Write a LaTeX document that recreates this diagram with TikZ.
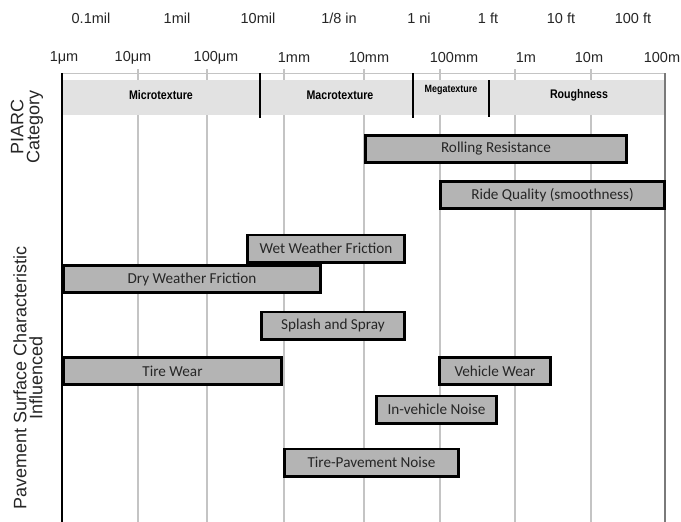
\documentclass[tikz,border=0pt]{standalone}
\usepackage{fontspec}
\setmainfont{Liberation Sans}
\newfontfamily\barfont{Carlito}
\newfontfamily\bandfont{Liberation Sans}[FakeStretch=0.85]
\usepackage{tikz}
\definecolor{gridgray}{HTML}{C4C4C4}
\definecolor{axisgray}{HTML}{7A7A7A}
\definecolor{bandfill}{HTML}{E2E2E2}
\definecolor{barfill}{HTML}{B4B4B4}

\begin{document}
\begin{tikzpicture}[x=1pt,y=-1pt,
    every node/.style={inner sep=0pt, outer sep=0pt},
    scalelabel/.style={font=\fontsize{14.5}{16}\selectfont, text=black!85},
    bandlabel/.style={font=\bandfont\bfseries\fontsize{12.5}{14}\selectfont},
    effect/.style={draw=black, line width=2.6pt, fill=barfill, minimum height=30pt-\pgflinewidth,
      font=\barfont\fontsize{15.2}{17}\selectfont, text=black!85},
    gridline/.style={draw=gridgray, line width=1.3pt}]
  \useasboundingbox (0,0) rectangle (681,522);
  \draw[gridline] (138,69) -- (138,522);
  \draw[gridline] (207,69) -- (207,522);
  \draw[gridline] (284,69) -- (284,522);
  \draw[gridline] (364,69) -- (364,522);
  \draw[gridline] (440,69) -- (440,522);
  \draw[gridline] (515,69) -- (515,522);
  \draw[gridline] (591,69) -- (591,522);
  \draw[draw=gridgray, line width=1pt] (62,73) -- (665,73);
  \fill[bandfill] (62,80) rectangle (665,115);
  \draw[line width=1.6pt] (260,73) -- (260,118);
  \draw[line width=1.6pt] (413,73) -- (413,118);
  \draw[line width=1.6pt] (489,80) -- (489,117);
  \draw[line width=1.2pt] (62,73) -- (62,522);
  \draw[draw=axisgray, line width=1.6pt] (665,73) -- (665,522);

  % imperial scale
  \node[scalelabel] (mil01) at (91,18) {0.1mil};
  \node[scalelabel] (mil1) at (177,18) {1mil};
  \node[scalelabel] (mil10) at (258,18) {10mil};
  \node[scalelabel] (in18) at (339,18) {1/8 in};
  \node[scalelabel] (in1) at (419,18) {1 ni};
  \node[scalelabel] (ft1) at (488,18) {1 ft};
  \node[scalelabel] (ft10) at (561,18) {10 ft};
  \node[scalelabel] (ft100) at (633,18) {100 ft};
  % metric scale
  \node[scalelabel] (um1) at (64,58) {1μm};
  \node[scalelabel] (um10) at (133,58) {10μm};
  \node[scalelabel] (um100) at (216,58) {100μm};
  \node[scalelabel] (mm1) at (294,58) {1mm};
  \node[scalelabel] (mm10) at (369,58) {10mm};
  \node[scalelabel] (mm100) at (454,58) {100mm};
  \node[scalelabel] (m1) at (526,58) {1m};
  \node[scalelabel] (m10) at (589,58) {10m};
  \node[scalelabel] (m100) at (662,58) {100m};

  % PIARC categories
  \node[bandlabel] (micro) at (161,95) {Microtexture};
  \node[bandlabel] (macro) at (340,95) {Macrotexture};
  \node[bandlabel, font=\bandfont\bfseries\fontsize{10.5}{12}\selectfont] (mega) at (451,90) {Megatexture};
  \node[bandlabel] (rough) at (579,95) {Roughness};

  % side titles
  \node[rotate=90, align=center, font=\fontsize{18}{16}\selectfont, text=black!85] (piarc) at (27,127) {PIARC\\Category};
  \node[rotate=90, align=center, font=\fontsize{18}{16}\selectfont, text=black!85] (influenced) at (28,378) {Pavement Surface Characteristic\\Influenced};

  % characteristics
  \node[effect, minimum width=264pt-\pgflinewidth] (rolling) at (496,149) {Rolling Resistance};
  \node[effect, minimum width=227pt-\pgflinewidth] (ride) at (552.5,195) {Ride Quality (smoothness)};
  \node[effect, minimum width=160pt-\pgflinewidth] (wet) at (326,248.5) {Wet Weather Friction};
  \node[effect, minimum width=260pt-\pgflinewidth] (dry) at (192,279) {Dry Weather Friction};
  \node[effect, minimum width=146pt-\pgflinewidth] (splash) at (333,325.5) {Splash and Spray};
  \node[effect, minimum width=221pt-\pgflinewidth] (tirewear) at (172.5,371) {Tire Wear};
  \node[effect, minimum width=114pt-\pgflinewidth] (vehwear) at (495,371) {Vehicle Wear};
  \node[effect, minimum width=123pt-\pgflinewidth] (invehicle) at (436.5,409.5) {In-vehicle Noise};
  \node[effect, minimum width=177pt-\pgflinewidth] (tirepave) at (371.5,462.5) {Tire-Pavement Noise};
\end{tikzpicture}
\end{document}
